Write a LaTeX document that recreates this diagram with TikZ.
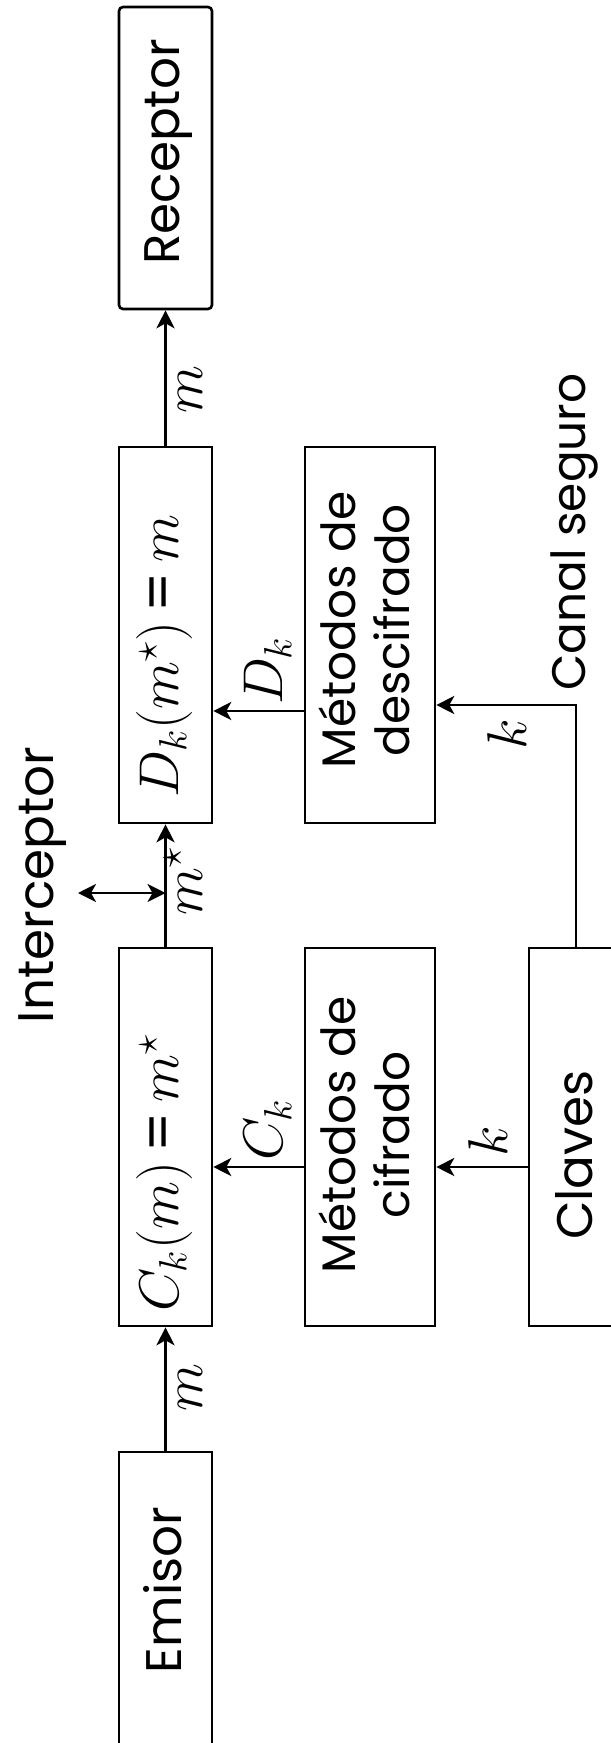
\documentclass[tikz,border=0pt]{standalone}
\usepackage{fix-cm}
\usepackage[no-math]{fontspec}
\setmainfont{Poppins}
\usetikzlibrary{arrows.meta}

\begin{document}
\begin{tikzpicture}[x=0.5pt,y=-0.5pt,
  blk/.style={draw, line width=1.3pt, inner sep=0pt, minimum width=46.5pt},
  lbl/.style={rotate=90, inner sep=0pt},
  big/.style={font=\fontsize{25}{28}\selectfont},
  mid/.style={font=\fontsize{23.5}{27}\selectfont, align=center},
  mth/.style={font=\fontsize{28}{30}\selectfont},
  tip/.tip={Stealth[length=9pt,width=9pt,inset=2.5pt]},
  arr/.style={line width=1.3pt, -tip},
  darr/.style={line width=1.3pt, tip-tip}]

\useasboundingbox (0,0) rectangle (610,1743);

% blocks
\node[blk, rounded corners=2pt, minimum height=151pt] (rec) at (165.5,158) {};
\node[blk, minimum height=188pt] (dec) at (165.5,635) {};
\node[blk, minimum height=189pt] (enc) at (165.5,1137) {};
\node[blk, minimum height=154pt] (emi) at (165.5,1606) {};
\node[blk, minimum width=65pt, minimum height=188pt] (mdec) at (370,635) {};
\node[blk, minimum width=65pt, minimum height=189pt] (menc) at (370,1137) {};
\node[blk, minimum width=45.5pt, minimum height=189pt] (cla) at (574.5,1137) {};

% block texts
\node[lbl, big, anchor=base] (trec) at (179,152) {Receptor};
\node[lbl, big, anchor=base] (temi) at (181,1590) {Emisor};
\node[lbl, big, anchor=base] (tcla) at (592,1155) {Claves};
\node[lbl, font=\fontsize{23.5}{26}\selectfont, anchor=base] (tcan) at (585,532) {Canal seguro};
\node[lbl, big, anchor=base] (tint) at (53,885) {Interceptor};
\node[lbl, mth, anchor=base] (tenc) at (178,1173) {$C_k(m)$\,=\,$m^\star$};
\node[lbl, mth, anchor=base] (tdec) at (178,656) {$D_k(m^\star)$\,=\,$m$};
\node[lbl, mid] (tmenc) at (364,1135) {Métodos de\\cifrado};
\node[lbl, mid] (tmdec) at (364,630) {Métodos de\\descifrado};

% helper coordinates
\coordinate (yi) at (0,893);
\coordinate (iend) at (78,893);
\coordinate (yc) at (0,1167);
\coordinate (yd) at (0,711);
\coordinate (ys) at (0,705);
\coordinate (xs) at (576,0);

% connectors
\draw[arr] (emi.north) -- (enc.south);
\draw[arr] (enc.north) -- (dec.south);
\draw[darr] (iend) -- (enc.north |- yi);
\draw[arr] (dec.north) -- (rec.south);
\draw[arr] (menc.west |- yc) -- (enc.east |- yc);
\draw[arr] (cla.west |- yc) -- (menc.east |- yc);
\draw[arr] (mdec.west |- yd) -- (dec.east |- yd);
\draw[arr] (cla.north -| xs) -- (xs |- ys) -- (mdec.east |- ys);

% connector labels
\node[lbl, mth] (lm1) at (190,1388) {$m$};
\node[lbl, mth] (lm2) at (190,390) {$m$};
\node[lbl, mth] (lms) at (183,881) {$m^\star$};
\node[lbl, mth] (lck) at (268,1130) {$C_k$};
\node[lbl, mth] (ldk) at (268,671) {$D_k$};
\node[lbl, mth] (lk1) at (488,1141) {$k$};
\node[lbl, mth] (lk2) at (507,734) {$k$};
\end{tikzpicture}
\end{document}
